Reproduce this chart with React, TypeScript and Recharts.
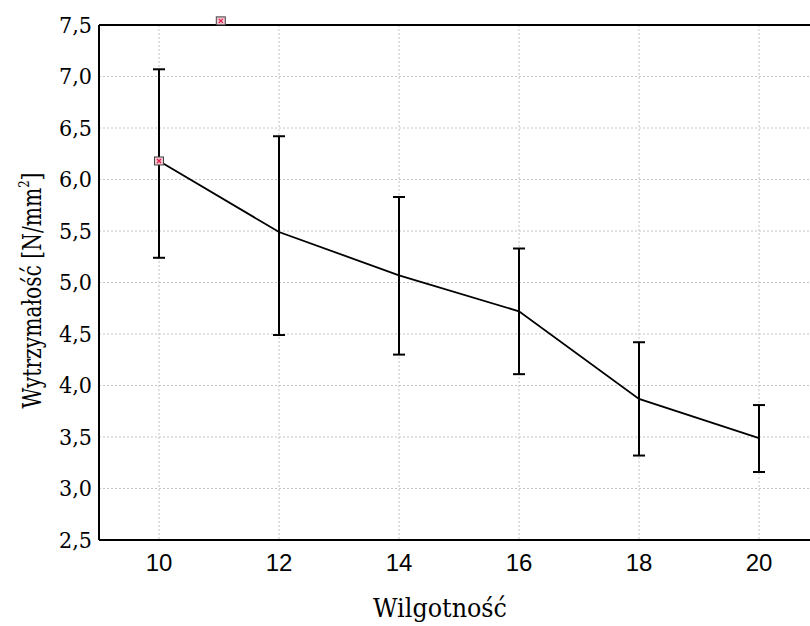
import {
  LineChart,
  Line,
  XAxis,
  YAxis,
  CartesianGrid,
  ErrorBar,
  ReferenceLine,
  ReferenceDot,
  Label,
} from "recharts";

const moisture = [10, 12, 14, 16, 18, 20];
const strengthMean = [6.18, 5.49, 5.07, 4.72, 3.87, 3.49];
const strengthLow = [5.24, 4.49, 4.3, 4.11, 3.32, 3.16];
const strengthHigh = [7.07, 6.42, 5.83, 5.33, 4.42, 3.81];

const xTicks = [10, 12, 14, 16, 18, 20];
const yTicks = [2.5, 3, 3.5, 4, 4.5, 5, 5.5, 6, 6.5, 7, 7.5];

// stray marker sitting just above the frame in the original
const strayMarker = { x: 11.03, y: 7.54 };

const data = moisture.map((m, i) => ({
  x: m,
  y: strengthMean[i],
  err: [strengthMean[i] - strengthLow[i], strengthHigh[i] - strengthMean[i]],
}));

const serif = "DejaVu Serif";
const sans = "Liberation Sans";

function BoxMarker({ cx, cy }: { cx?: number; cy?: number }) {
  if (cx == null || cy == null) return null;
  return (
    <g>
      <rect x={cx - 4.5} y={cy - 4} width={9} height={8} fill="#f3c6d3" stroke="#444" strokeWidth={1} />
      <path
        d={`M${cx - 2} ${cy - 2} L${cx + 2} ${cy + 2} M${cx + 2} ${cy - 2} L${cx - 2} ${cy + 2}`}
        stroke="#e0204a"
        strokeWidth={1.3}
      />
    </g>
  );
}

function YTick({ x, y, payload }: any) {
  return (
    <text
      x={x}
      y={y}
      dy="0.36em"
      textAnchor="end"
      fill="#000"
      fontFamily={serif}
      fontSize={22}
      textLength={33}
      lengthAdjust="spacingAndGlyphs"
    >
      {payload.value.toFixed(1).replace(".", ",")}
    </text>
  );
}

function XTick({ x, y, payload }: any) {
  return (
    <text x={x} y={y} dy="0.72em" textAnchor="middle" fill="#000" fontFamily={sans} fontSize={24}>
      {payload.value}
    </text>
  );
}

export default function App() {
  return (
    <div
      style={{
        position: "absolute",
        left: 0,
        top: 0,
        width: 810,
        height: 626,
        overflow: "hidden",
        background: "#fff",
      }}
    >
      <LineChart
        width={830}
        height={626}
        data={data}
        margin={{ top: 25, right: 11, bottom: 56, left: 0 }}
      >
        <CartesianGrid stroke="#c4c4c4" strokeDasharray="2 2" />
        <XAxis
          dataKey="x"
          type="number"
          domain={[9, 21]}
          ticks={xTicks}
          allowDataOverflow
          height={30}
          tickSize={0}
          tickMargin={14}
          axisLine={{ stroke: "#000", strokeWidth: 2 }}
          tick={<XTick />}
        >
          <Label
            content={({ viewBox }: any) => (
              <text
                x={viewBox.x + viewBox.width / 2 - 19}
                y={617}
                textAnchor="middle"
                fontFamily={serif}
                fontSize={26}
                textLength={134}
                lengthAdjust="spacingAndGlyphs"
                fill="#000"
              >
                Wilgotność
              </text>
            )}
          />
        </XAxis>
        <YAxis
          type="number"
          domain={[2.5, 7.5]}
          ticks={yTicks}
          allowDataOverflow
          width={99}
          tickSize={0}
          tickMargin={7}
          axisLine={{ stroke: "#000", strokeWidth: 2 }}
          tick={<YTick />}
        >
          <Label
            content={({ viewBox }: any) => {
              const cx = viewBox.x + 41;
              const cy = viewBox.y + viewBox.height / 2 + 8;
              return (
                <text
                  x={cx}
                  y={cy}
                  transform={`rotate(-90 ${cx} ${cy})`}
                  textAnchor="middle"
                  fontFamily={serif}
                  fontSize={26}
                  textLength={236}
                  lengthAdjust="spacingAndGlyphs"
                  fill="#000"
                >
                  Wytrzymałość [N/mm
                  <tspan fontSize={15} dy={-12}>2</tspan>
                  <tspan dy={12}>]</tspan>
                </text>
              );
            }}
          />
        </YAxis>
        <ReferenceLine y={7.5} stroke="#000" strokeWidth={2} />
        <Line
          dataKey="y"
          stroke="#000"
          strokeWidth={1.8}
          isAnimationActive={false}
          dot={(p: any) =>
            p.index === 0 ? (
              <BoxMarker key={`m${p.index}`} cx={p.cx} cy={p.cy} />
            ) : (
              <g key={`m${p.index}`} />
            )
          }
          activeDot={false}
        >
          <ErrorBar dataKey="err" width={6} stroke="#000" strokeWidth={2} isAnimationActive={false} />
        </Line>
        <ReferenceDot
          x={strayMarker.x}
          y={strayMarker.y}
          ifOverflow="visible"
          shape={(p: any) => <BoxMarker cx={p.cx} cy={p.cy} />}
        />
      </LineChart>
    </div>
  );
}
